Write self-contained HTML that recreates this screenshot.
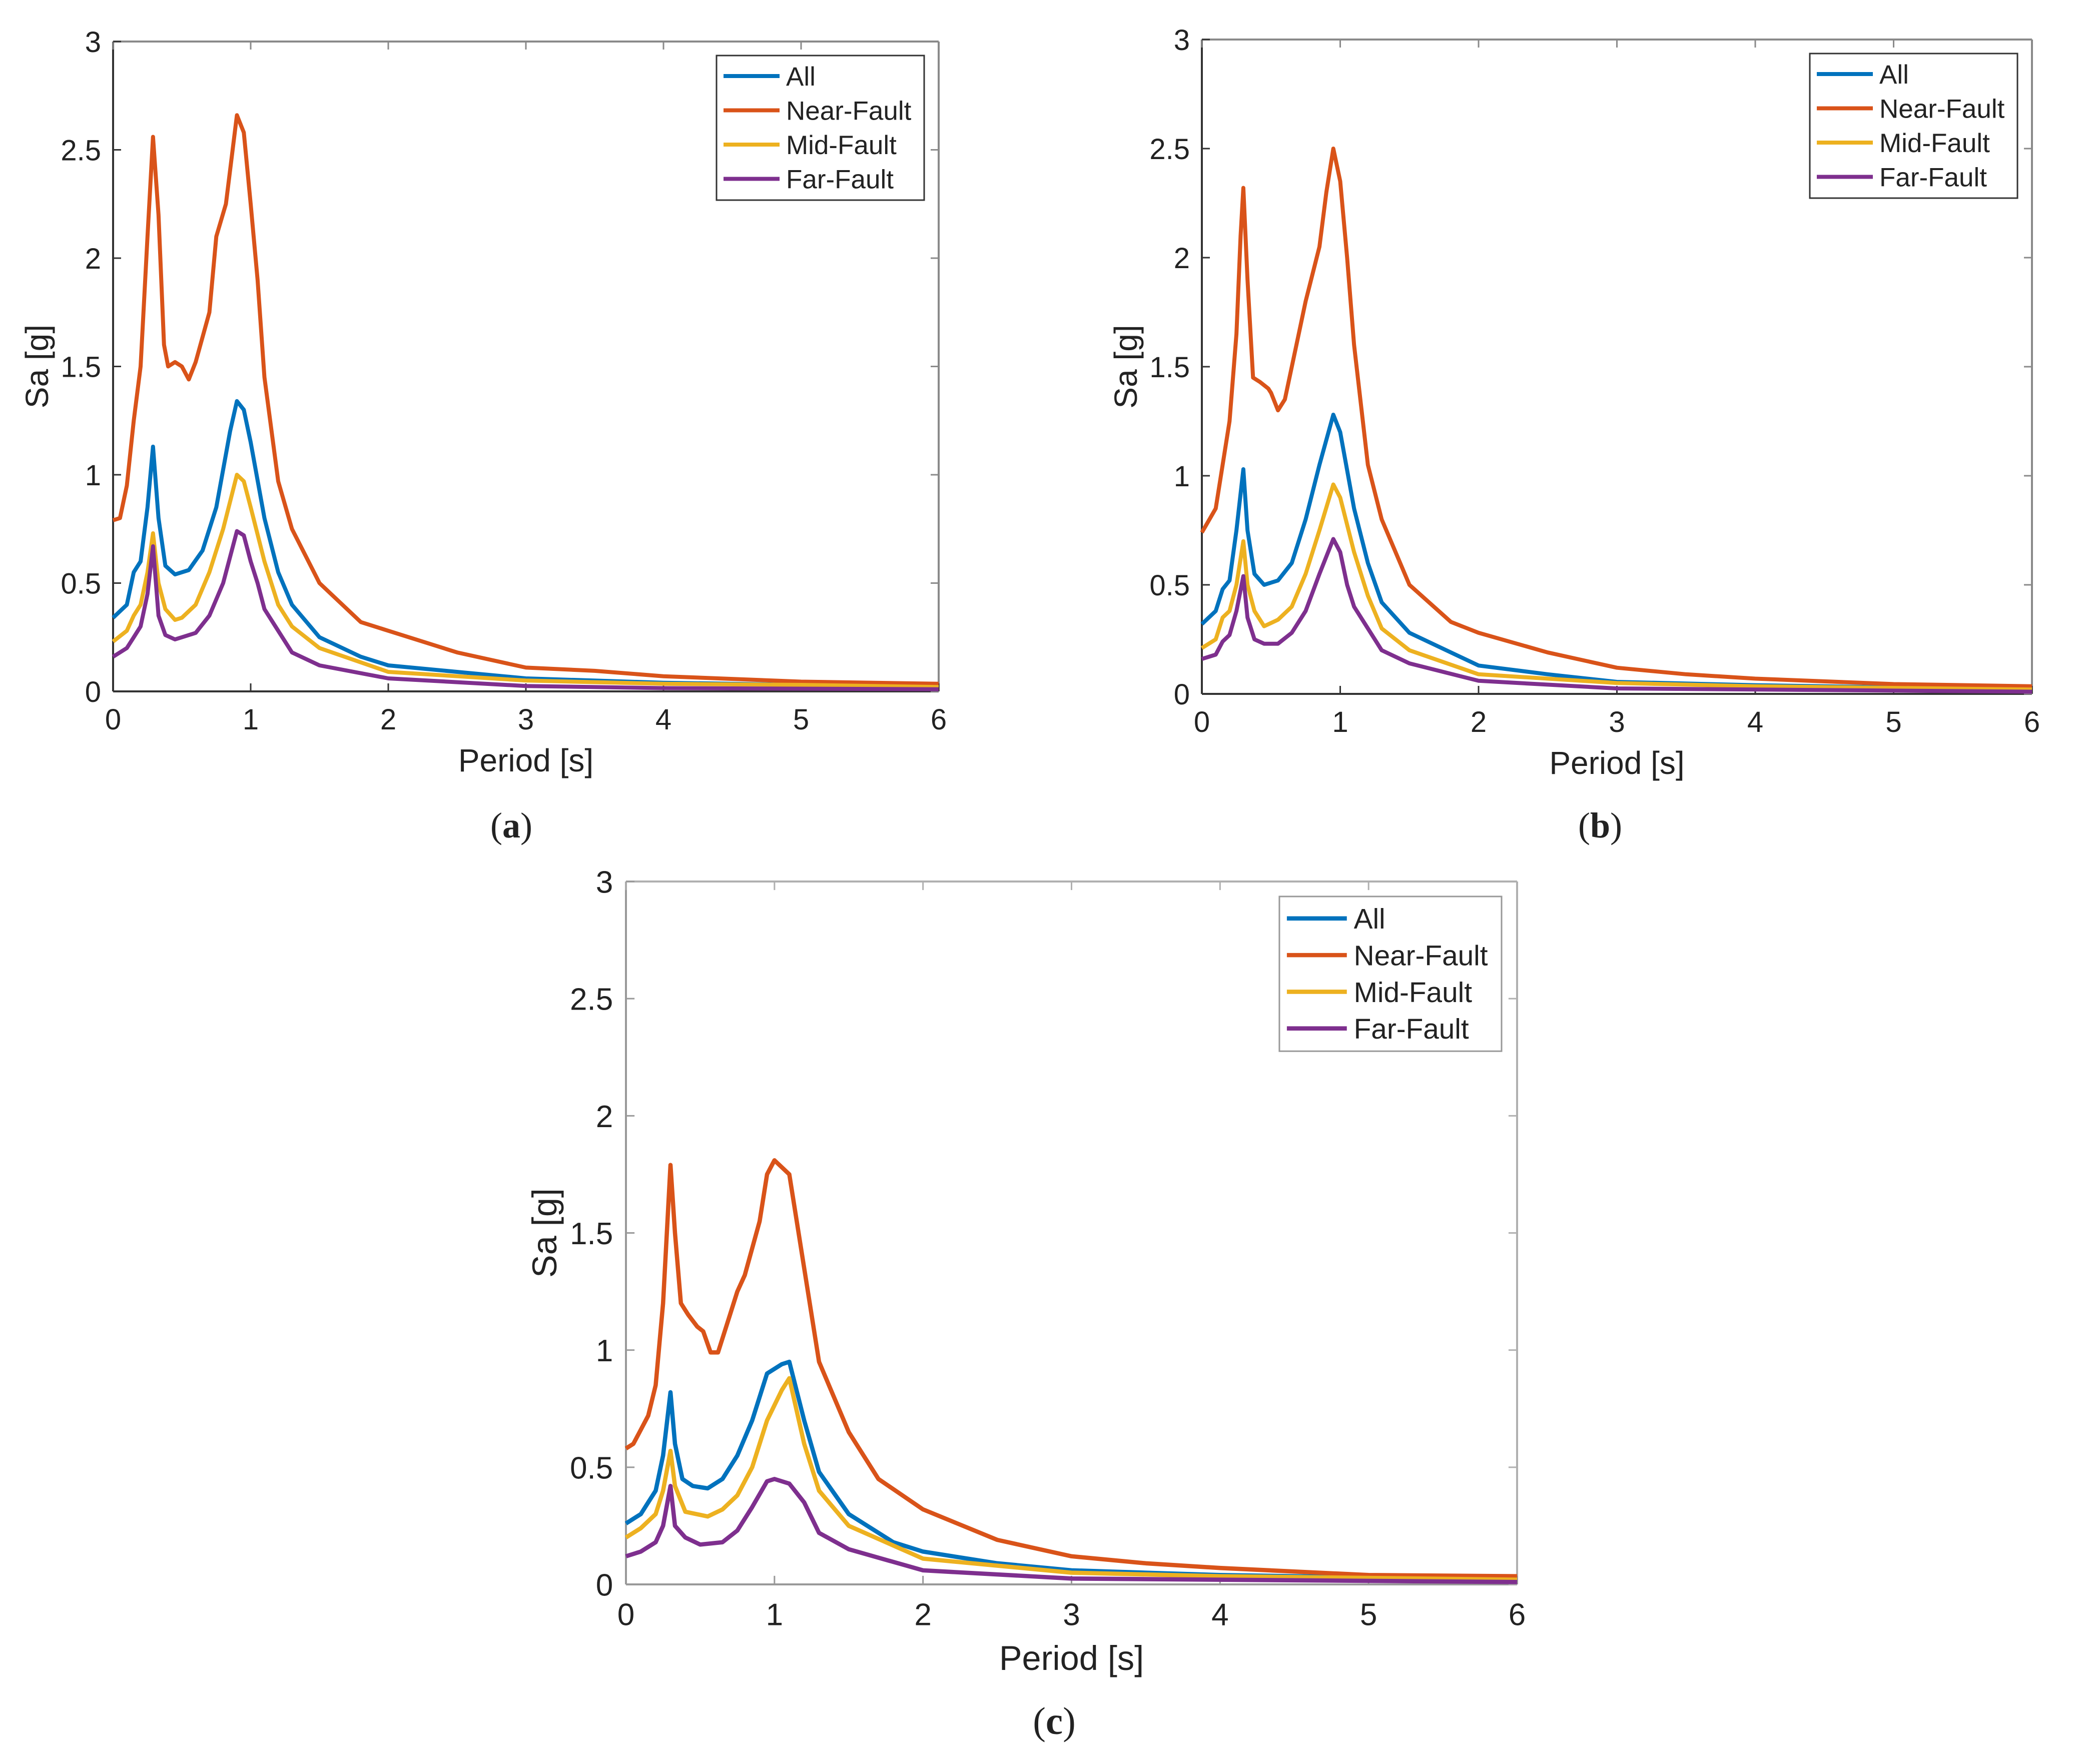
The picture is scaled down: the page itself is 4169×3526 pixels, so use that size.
<!DOCTYPE html>
<html><head><meta charset="utf-8">
<style>
html,body{margin:0;padding:0;background:#fff;}
svg{display:block;}
text{font-family:"Liberation Sans",sans-serif;fill:#222;}
.cap{font-family:"Liberation Serif",serif;}
</style></head>
<body>
<svg id="fig" width="4169" height="3526" viewBox="0 0 4169 3526" xmlns="http://www.w3.org/2000/svg">
<rect width="4169" height="3526" fill="#fff"/>
</svg>
<script>
// Shared axis data
const xTicks = [0,1,2,3,4,5,6];
const yTicks = [0,0.5,1,1.5,2,2.5,3];
const yTickLabels = ["0","0.5","1","1.5","2","2.5","3"];
const seriesNames = ["All","Near-Fault","Mid-Fault","Far-Fault"];
const seriesColors = ["#0072BD","#D95319","#EDB120","#7E2F8E"];

// Panel (a)
const aAllT  = [0,0.1,0.15,0.2,0.25,0.29,0.33,0.38,0.45,0.55,0.65,0.75,0.85,0.9,0.95,1.0,1.1,1.2,1.3,1.5,1.8,2,2.5,3,4,5,6];
const aAllV  = [0.34,0.4,0.55,0.6,0.85,1.13,0.8,0.58,0.54,0.56,0.65,0.85,1.2,1.34,1.3,1.15,0.8,0.55,0.4,0.25,0.16,0.12,0.09,0.06,0.04,0.03,0.02];
const aNearT = [0,0.05,0.1,0.15,0.2,0.25,0.29,0.33,0.37,0.4,0.45,0.5,0.55,0.6,0.7,0.75,0.82,0.9,0.95,1.0,1.05,1.1,1.2,1.3,1.5,1.8,2.0,2.5,3.0,3.5,4,5,6];
const aNearV = [0.79,0.8,0.95,1.25,1.5,2.1,2.56,2.2,1.6,1.5,1.52,1.5,1.44,1.52,1.75,2.1,2.25,2.66,2.58,2.25,1.9,1.45,0.97,0.75,0.5,0.32,0.28,0.18,0.11,0.095,0.07,0.045,0.035];
const aMidT  = [0,0.1,0.15,0.2,0.25,0.29,0.33,0.38,0.45,0.5,0.6,0.7,0.8,0.9,0.95,1.0,1.1,1.2,1.3,1.5,2,3,4,5,6];
const aMidV  = [0.23,0.28,0.35,0.4,0.55,0.73,0.5,0.38,0.33,0.34,0.4,0.55,0.75,1.0,0.97,0.85,0.6,0.4,0.3,0.2,0.09,0.05,0.035,0.03,0.02];
const aFarT  = [0,0.1,0.15,0.2,0.25,0.29,0.33,0.38,0.45,0.5,0.6,0.7,0.8,0.9,0.95,1.0,1.05,1.1,1.2,1.3,1.5,2,3,4,6];
const aFarV  = [0.16,0.2,0.25,0.3,0.45,0.67,0.35,0.26,0.24,0.25,0.27,0.35,0.5,0.74,0.72,0.6,0.5,0.38,0.28,0.18,0.12,0.06,0.025,0.015,0.01];

// Panel (b)
const bAllT  = [0,0.1,0.15,0.2,0.25,0.3,0.33,0.38,0.45,0.55,0.65,0.75,0.85,0.95,1.0,1.1,1.2,1.3,1.5,2,2.5,3,4,6];
const bAllV  = [0.32,0.38,0.48,0.52,0.75,1.03,0.75,0.55,0.5,0.52,0.6,0.8,1.05,1.28,1.2,0.85,0.6,0.42,0.28,0.13,0.09,0.055,0.04,0.02];
const bNearT = [0,0.1,0.15,0.2,0.25,0.28,0.3,0.33,0.37,0.42,0.48,0.5,0.55,0.6,0.7,0.75,0.85,0.9,0.95,1.0,1.05,1.1,1.2,1.3,1.5,1.8,2,2.5,3,3.5,4,5,6];
const bNearV = [0.74,0.85,1.05,1.25,1.65,2.1,2.32,1.9,1.45,1.43,1.4,1.38,1.3,1.35,1.65,1.8,2.05,2.3,2.5,2.35,2.0,1.6,1.05,0.8,0.5,0.33,0.28,0.19,0.12,0.09,0.07,0.045,0.035];
const bMidT  = [0,0.1,0.15,0.2,0.25,0.3,0.33,0.38,0.45,0.55,0.65,0.75,0.85,0.95,1.0,1.1,1.2,1.3,1.5,2,3,4,6];
const bMidV  = [0.21,0.25,0.35,0.38,0.5,0.7,0.5,0.38,0.31,0.34,0.4,0.55,0.75,0.96,0.9,0.65,0.45,0.3,0.2,0.09,0.05,0.035,0.02];
const bFarT  = [0,0.1,0.15,0.2,0.25,0.3,0.33,0.38,0.45,0.55,0.65,0.75,0.85,0.95,1.0,1.05,1.1,1.2,1.3,1.5,2,3,6];
const bFarV  = [0.16,0.18,0.24,0.27,0.38,0.54,0.35,0.25,0.23,0.23,0.28,0.38,0.55,0.71,0.65,0.5,0.4,0.3,0.2,0.14,0.06,0.025,0.01];

// Panel (c)
const cAllT  = [0,0.1,0.15,0.2,0.25,0.3,0.33,0.38,0.45,0.55,0.65,0.75,0.85,0.95,1.05,1.1,1.2,1.3,1.5,1.8,2,2.5,3,4,6];
const cAllV  = [0.26,0.3,0.35,0.4,0.55,0.82,0.6,0.45,0.42,0.41,0.45,0.55,0.7,0.9,0.94,0.95,0.7,0.48,0.3,0.18,0.14,0.09,0.06,0.04,0.02];
const cNearT = [0,0.05,0.1,0.15,0.2,0.25,0.3,0.33,0.37,0.42,0.48,0.52,0.57,0.62,0.7,0.75,0.8,0.9,0.95,1.0,1.05,1.1,1.2,1.3,1.5,1.7,2,2.5,3,3.5,4,5,6];
const cNearV = [0.58,0.6,0.66,0.72,0.85,1.2,1.79,1.5,1.2,1.15,1.1,1.08,0.99,0.99,1.15,1.25,1.32,1.55,1.75,1.81,1.78,1.75,1.35,0.95,0.65,0.45,0.32,0.19,0.12,0.09,0.07,0.04,0.035];
const cMidT  = [0,0.1,0.2,0.25,0.3,0.33,0.4,0.55,0.65,0.75,0.85,0.95,1.05,1.1,1.2,1.3,1.5,2,3,4,6];
const cMidV  = [0.2,0.24,0.3,0.4,0.57,0.42,0.31,0.29,0.32,0.38,0.5,0.7,0.83,0.88,0.6,0.4,0.25,0.11,0.05,0.035,0.02];
const cFarT  = [0,0.1,0.2,0.25,0.3,0.33,0.4,0.5,0.65,0.75,0.85,0.95,1.0,1.1,1.2,1.3,1.5,2,3,6];
const cFarV  = [0.12,0.14,0.18,0.25,0.42,0.25,0.2,0.17,0.18,0.23,0.33,0.44,0.45,0.43,0.35,0.22,0.15,0.06,0.025,0.01];

const NS = "http://www.w3.org/2000/svg";
const svg = document.getElementById("fig");
function mk(tag, attrs, parent){
  const e = document.createElementNS(NS, tag);
  for (const k in attrs) e.setAttribute(k, attrs[k]);
  (parent||svg).appendChild(e);
  return e;
}

function drawPanel(id, box, s, series, caption, axisCol, axisCol2){
  const g = mk("g", {});
  
  
  const xS = t => box.x0 + (t/6)*(box.x1-box.x0);
  const yS = v => box.y0 - (v/3)*(box.y0-box.y1);
  const frame = mk("g", {}, g);
  
  
  mk("line",{x1:box.x0,y1:box.y1,x2:box.x1,y2:box.y1,stroke:axisCol2,"stroke-width":4},frame);
  mk("line",{x1:box.x1,y1:box.y1,x2:box.x1,y2:box.y0,stroke:axisCol2,"stroke-width":4},frame);
  mk("line",{x1:box.x0,y1:box.y1,x2:box.x0,y2:box.y0,stroke:axisCol,"stroke-width":4},frame);
  mk("line",{x1:box.x0,y1:box.y0,x2:box.x1,y2:box.y0,stroke:axisCol,"stroke-width":4},frame);
  const tl = 16*s;
  xTicks.forEach(t=>{
    const x = xS(t);
    mk("line",{x1:x,y1:box.y0,x2:x,y2:box.y0-tl,stroke:axisCol,"stroke-width":3},g);
    mk("line",{x1:x,y1:box.y1,x2:x,y2:box.y1+tl,stroke:axisCol2,"stroke-width":3},g);
    const tx = mk("text",{x:x,y:box.y0+76*s,"text-anchor":"middle","font-size":58*s},g);
    tx.textContent = String(t);
    
    
  });
  yTicks.forEach((v,i)=>{
    const y = yS(v);
    mk("line",{x1:box.x0,y1:y,x2:box.x0+tl,y2:y,stroke:axisCol,"stroke-width":3},g);
    mk("line",{x1:box.x1,y1:y,x2:box.x1-tl,y2:y,stroke:axisCol2,"stroke-width":3},g);
    const ty = mk("text",{x:box.x0-24*s,y:y+21*s,"text-anchor":"end","font-size":58*s},g);
    ty.textContent = yTickLabels[i];
    
    
  });
  const xt = mk("text",{x:(box.x0+box.x1)/2,y:box.y0+160*s,"text-anchor":"middle","font-size":64*s},g);
  xt.textContent = "Period [s]";
  
  
  const ycx = box.x0-130*s, ycy=(box.y0+box.y1)/2;
  const yt = mk("text",{x:ycx,y:ycy,"text-anchor":"middle","font-size":64*s,transform:`rotate(-90 ${ycx} ${ycy})`},g);
  yt.textContent = "Sa [g]";
  
  
  series.forEach((sr,i)=>{
    const d = sr.T.map((t,j)=>(j?"L":"M")+xS(t).toFixed(1)+","+yS(sr.V[j]).toFixed(1)).join(" ");
    const p = mk("path",{d:d,fill:"none",stroke:seriesColors[i],"stroke-width":8*s,"stroke-linejoin":"round"},g);
    
    
  });
  const lx1 = box.x1-29*s, lx0 = box.x1-444*s, ly0 = box.y1+28*s, ly1 = box.y1+317*s;
  const lg = mk("g",{},g);
  
  
  mk("rect",{x:lx0,y:ly0,width:lx1-lx0,height:ly1-ly0,fill:"#fff",stroke:axisCol,"stroke-width":3},lg);
  seriesNames.forEach((n,i)=>{
    const ry = ly0 + 41*s + i*68.5*s;
    const e = mk("g",{},lg);
    
    
    mk("line",{x1:lx0+14*s,y1:ry,x2:lx0+126*s,y2:ry,stroke:seriesColors[i],"stroke-width":8*s},e);
    const t = mk("text",{x:lx0+139*s,y:ry+19*s,"font-size":53*s},e);
    t.textContent = n;
  });
  const c = mk("text",{x:caption.x,y:caption.y,"text-anchor":"middle","font-size":72*s,"class":"cap"},g);
  c.innerHTML = '(<tspan font-weight="bold">'+caption.l+'</tspan>)';
  
  
}

drawPanel("a",{x0:226,x1:1876,y1:83,y0:1382},1.0,
  [{T:aAllT,V:aAllV},{T:aNearT,V:aNearV},{T:aMidT,V:aMidV},{T:aFarT,V:aFarV}],
  {x:1022,y:1674,l:"a"},"#333","#8a8a8a");
drawPanel("b",{x0:2402,x1:4061,y1:79,y0:1387},1.0,
  [{T:bAllT,V:bAllV},{T:bNearT,V:bNearV},{T:bMidT,V:bMidV},{T:bFarT,V:bFarV}],
  {x:3198,y:1674,l:"b"},"#333","#8a8a8a");
drawPanel("c",{x0:1251,x1:3032,y1:1762,y0:3167},1.07,
  [{T:cAllT,V:cAllV},{T:cNearT,V:cNearV},{T:cMidT,V:cMidV},{T:cFarT,V:cFarV}],
  {x:2107,y:3466,l:"c"},"#999","#b0b0b0");
</script>
</body></html>
